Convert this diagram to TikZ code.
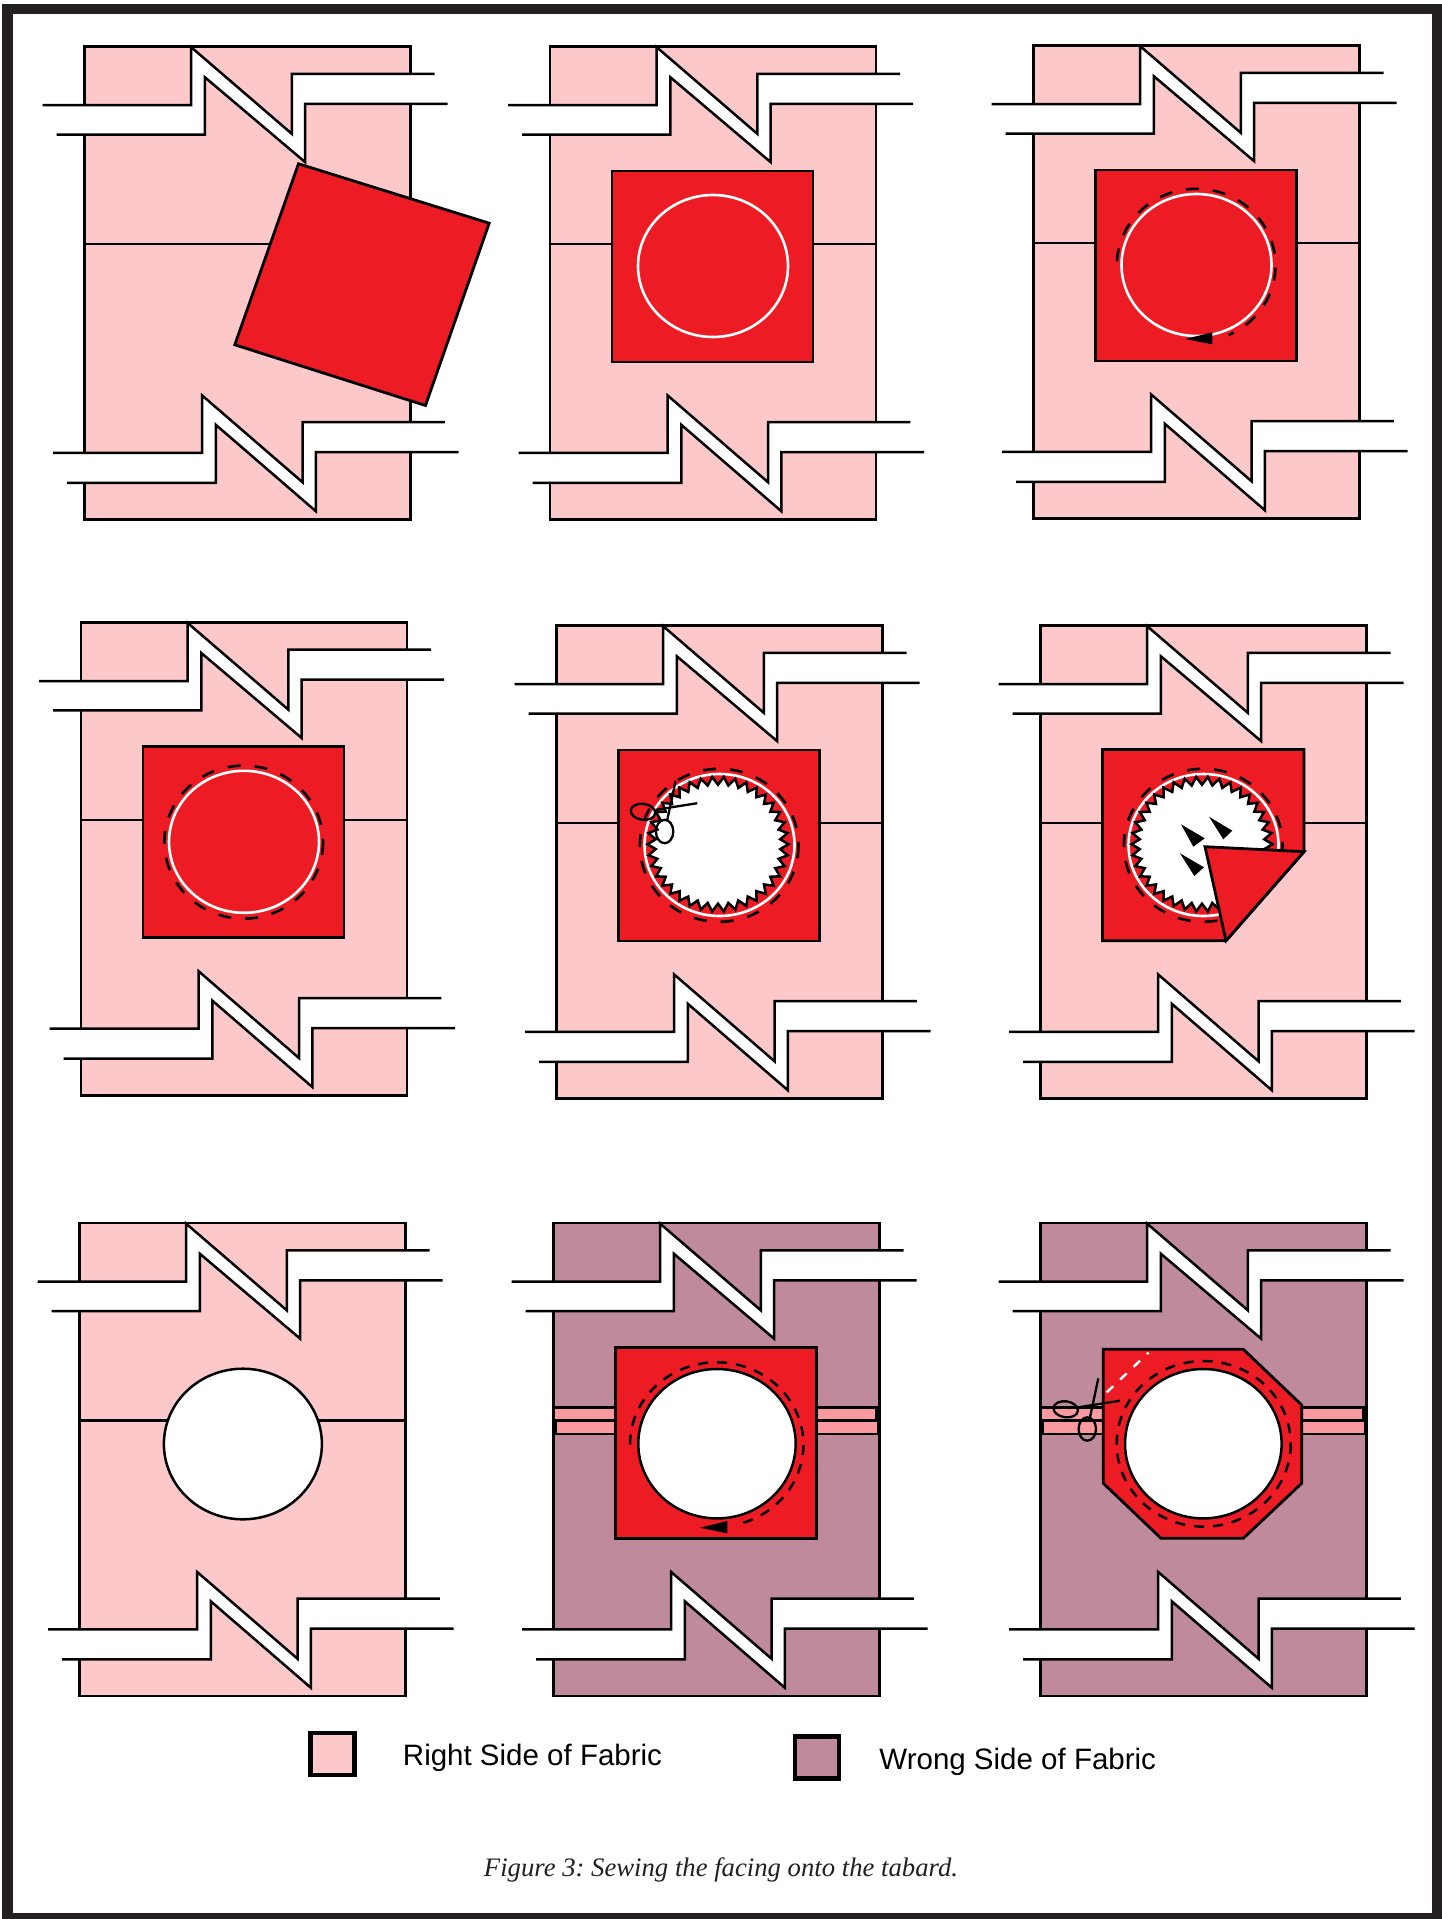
\documentclass[tikz,border=0pt]{standalone}
\usepackage{fontspec}
\setmainfont{Liberation Serif}
\setsansfont{Liberation Sans}
\usetikzlibrary{positioning}
\definecolor{rightside}{HTML}{FCC8C9}
\definecolor{wrongside}{HTML}{BE8A9C}
\definecolor{facing}{HTML}{ED1C24}
\definecolor{strip}{HTML}{F99AA0}
\definecolor{edge}{HTML}{231F20}

\begin{document}
\frenchspacing
\begin{tikzpicture}[
    x=1pt, y=-1pt,
    outline/.style={draw=black, line width=2.5pt},
    facingbox/.style={outline, fill=facing, line width=2.8pt},
    seamline/.style={draw=white, line width=2.6pt},
    stitch/.style={draw=black, line width=2.6pt, dash pattern=on 13pt off 14pt},
    finestitch/.style={draw=black, line width=2.5pt, dash pattern=on 10pt off 9pt},
    snip/.style={draw=black, line width=2.3pt},
    swatch/.style={draw=black, line width=4.5pt, minimum width=44pt, minimum height=42pt, inner sep=0pt},
    legendtext/.style={font=\sffamily\fontsize{29.5}{31}\selectfont, inner sep=0pt},
    tabard/.pic={
        \path[outline, fill=#1] (0,0) rectangle (326,473);
        % Top break
        \fill[white] (-42,58.7) -- (106.7,58.7) -- (106.7,0.7) -- (207.3,87.3) -- (207.3,27.3) -- (350,27.3)
            -- (363,57.3) -- (220.7,57.3) -- (220.7,115.7) -- (120.3,30.7) -- (120.3,88) -- (-28,88) -- cycle;
        \draw[outline] (-42,58.7) -- (106.7,58.7) -- (106.7,0.7) -- (207.3,87.3) -- (207.3,27.3) -- (350,27.3);
        \draw[outline] (-28,88) -- (120.3,88) -- (120.3,30.7) -- (220.7,115.7) -- (220.7,57.3) -- (363,57.3);
        % Bottom break
        \fill[white] (-31.3,406.3) -- (117.7,406.3) -- (117.7,349) -- (218,435.7) -- (218,375.7) -- (360.3,375.7)
            -- (374,405.7) -- (231.3,405.7) -- (231.3,464.7) -- (131.3,378.3) -- (131.3,436.3) -- (-17.3,436.3) -- cycle;
        \draw[outline] (-31.3,406.3) -- (117.7,406.3) -- (117.7,349) -- (218,435.7) -- (218,375.7) -- (360.3,375.7);
        \draw[outline] (-17.3,436.3) -- (131.3,436.3) -- (131.3,378.3) -- (231.3,464.7) -- (231.3,405.7) -- (374,405.7);
    },
    foldline/.pic={
        \draw[outline] (0,197.5) -- (326,197.5);
    },
    facingsquare/.pic={
        \path[facingbox] (62,124.5) rectangle (263,315.5);
    },
    sewncircle/.pic={
        \draw[seamline] (163,219.5) ellipse [x radius=75, y radius=71];
    },
    sawcut/.pic={
        \draw[outline, fill=white] plot[domain=0:75, samples=76]
            ({161.5+(70.5-8*mod(round(\x),2))*cos(4.7368*\x)}, {218.7+(67.5-8*mod(round(\x),2))*sin(4.7368*\x)}) -- cycle;
    },
    scissors/.pic={
        \draw[snip] (25.2,186.3) ellipse [x radius=12.3, y radius=8, rotate=-8];
        \draw[snip] (46.8,206) ellipse [x radius=8.7, y radius=11.7];
        \draw[snip] (37.8,184.3) -- (79.5,177.7);
        \draw[snip] (49.5,194.3) -- (57.8,155.3);
    },
    strips/.pic={
        \path[outline, fill=strip] (0,184.5) rectangle (323,197);
        \path[outline, fill=strip] (2,197.5) rectangle (325,211);
    }
]

% Frame
\fill[white] (0,0) rectangle (1442,1919);
\fill[edge] (2,4) rectangle (1442,1919);
\fill[white] (12.5,14) rectangle (1431.5,1913);

% Row 1
\begin{scope}[shift={(84.5,46.5)}]
    \pic {tabard=rightside};
    \pic {foldline};
    \path[facingbox] (214,117.3) -- (404.7,176.7) -- (341,359) -- (150.3,298.3) -- cycle;
\end{scope}

\begin{scope}[shift={(550,46.5)}]
    \pic {tabard=rightside};
    \pic {foldline};
    \pic {facingsquare};
    \pic {sewncircle};
\end{scope}

\begin{scope}[shift={(1033.5,45.5)}]
    \pic {tabard=rightside};
    \pic {foldline};
    \pic {facingsquare};
    \pic {sewncircle};
    \draw[stitch] (162.7,219.8) ++(183:79.3 and 76.5) arc [start angle=183, end angle=426, x radius=79.3, y radius=76.5];
    \fill[black] (151.5,293.5) -- (178.8,286.8) -- (178.8,298.8) -- cycle;
\end{scope}

% Row 2
\begin{scope}[shift={(81,622.3)}]
    \pic {tabard=rightside};
    \pic {foldline};
    \pic {facingsquare};
    \pic {sewncircle};
    \draw[stitch] (162.7,219.8) ellipse [x radius=79.3, y radius=76.5];
\end{scope}

\begin{scope}[shift={(556.5,625.5)}]
    \pic {tabard=rightside};
    \pic {foldline};
    \pic {facingsquare};
    \draw[stitch] (162.7,219.8) ellipse [x radius=79.3, y radius=76.5];
    \pic {sewncircle};
    \pic {sawcut};
    \begin{scope}[shift={(61.3,0)}]
        \pic {scissors};
    \end{scope}
\end{scope}

\begin{scope}[shift={(1040.5,625.5)}]
    \pic {tabard=rightside};
    \pic {foldline};
    \path[facingbox] (62,124) -- (263.5,124) -- (263.5,226.2) -- (185.5,315.2) -- (62,315.2) -- cycle;
    \draw[stitch] (162.7,219.8) ellipse [x radius=79.3, y radius=76.5];
    \pic {sewncircle};
    \pic {sawcut};
    % Turning arrows
    \fill[black] (140.5,198.8) -- (164.2,212.8) -- (152.8,221.2) -- cycle;
    \fill[black] (168.5,191.2) -- (191.8,205.2) -- (182.8,213.8) -- cycle;
    \fill[black] (139.5,227.8) -- (163.5,241.8) -- (153.8,250.5) -- cycle;
    % Turned corner
    \path[facingbox] (164.5,221.2) -- (263.5,226.2) -- (185.5,315.2) -- cycle;
\end{scope}

% Row 3
\begin{scope}[shift={(79.5,1223)}]
    \pic {tabard=rightside};
    \pic {foldline};
    \draw[outline, fill=white] (163.4,221) ellipse [x radius=79, y radius=75.3];
\end{scope}

\begin{scope}[shift={(553.5,1223)}]
    \pic {tabard=wrongside};
    \pic {strips};
    \pic {facingsquare};
    \draw[outline, fill=white] (163.5,220.7) ellipse [x radius=78.7, y radius=74.7];
    \draw[finestitch] (163.2,221.5) ++(180:86.7 and 82.2) arc [start angle=180, end angle=436, x radius=86.7, y radius=82.2];
    \fill[black] (146.5,304.7) -- (173.8,298) -- (173.8,310.3) -- cycle;
\end{scope}

\begin{scope}[shift={(1040.5,1223)}]
    \pic {tabard=wrongside};
    \pic {strips};
    \path[facingbox] (62.8,126.3) -- (202.8,126.3) -- (261.2,182) -- (261.2,260.3) -- (202.8,315.3) -- (120.5,315.3) -- (62.8,260.3) -- cycle;
    \draw[outline, fill=white] (162.8,220.7) ellipse [x radius=78.3, y radius=74.7];
    \draw[finestitch] (163.2,220.8) ellipse [x radius=87, y radius=82.8];
    \draw[draw=white, line width=2.4pt, dash pattern=on 9pt off 9.5pt] (66.2,169.3) -- (108,129.7);
    \pic {scissors};
\end{scope}

% Legend
\node[swatch, fill=rightside] (rightbox) at (332.5,1754) {};
\node[legendtext, right=46pt of rightbox, yshift=-4pt] (rightlabel) {Right Side of Fabric};
\node[swatch, fill=wrongside] (wrongbox) at (817,1757.5) {};
\node[legendtext, right=38pt of wrongbox, yshift=-4pt] (wronglabel) {Wrong Side of Fabric};

% Caption
\node[font=\itshape\fontsize{26.7}{28}\selectfont, text=edge, inner sep=0pt, anchor=base] (caption) at (721,1876.5) {Figure 3: Sewing the facing onto the tabard.};

\end{tikzpicture}
\end{document}
